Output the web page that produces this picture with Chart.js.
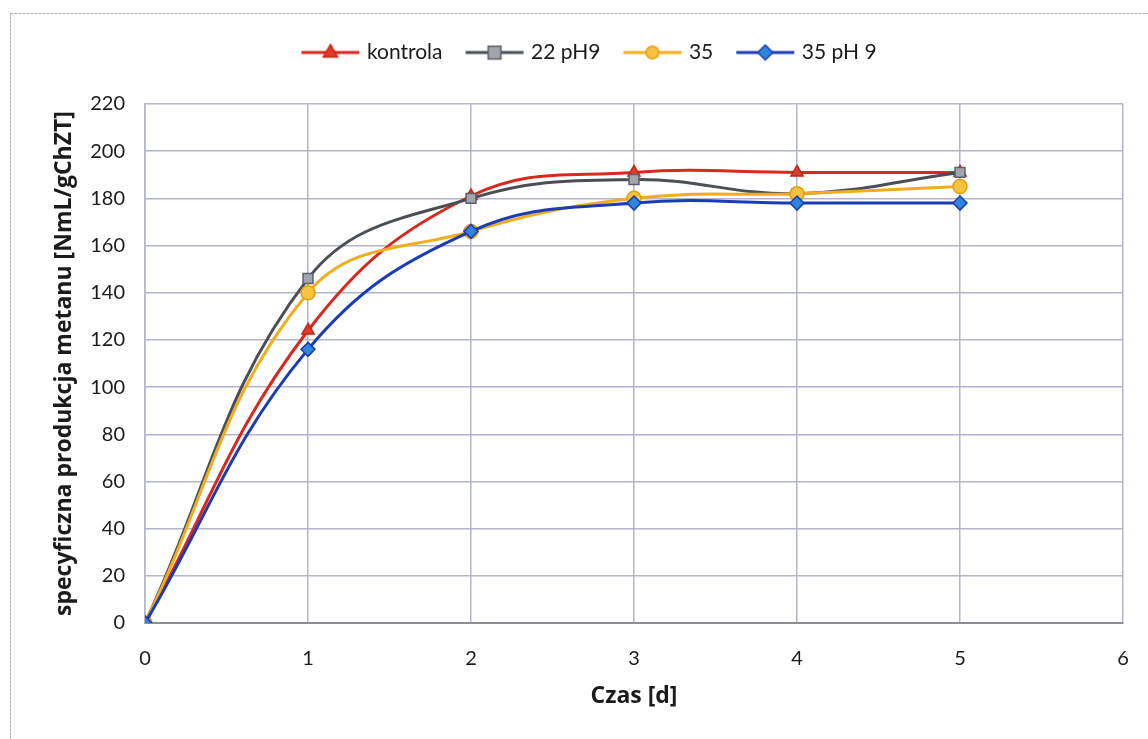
<!DOCTYPE html>
<html>
<head>
<meta charset="utf-8">
<script src="https://cdn.jsdelivr.net/npm/chart.js@4/dist/chart.umd.min.js"></script>
<style>
  html, body { margin: 0; padding: 0; background: #ffffff; }
  #wrap { width: 1148px; height: 739px; position: relative; }
</style>
</head>
<body>
<div id="wrap"><canvas id="c"></canvas></div>
<script>
// Time axis (days) and cumulative specific methane yield per variant
const days = [0, 1, 2, 3, 4, 5];
const kontrola = [0, 124, 181, 191, 191, 191];
const ph22_9 = [0, 146, 180, 188, 182, 191];
const t35 = [0, 140, 166, 180, 182, 185];
const t35ph9 = [0, 116, 166, 178, 178, 178];
const seriesNames = ['kontrola', '22 pH9', '35', '35 pH 9'];
const yTickValues = [0, 20, 40, 60, 80, 100, 120, 140, 160, 180, 200, 220];
const xTickValues = [0, 1, 2, 3, 4, 5, 6];

const FONT = 'Lato, "Open Sans", sans-serif';
const TITLE_FONT = '"Open Sans", Lato, sans-serif';
const TEXT = '#1b1b1b';

const styles = [
  { line: '#d9281d', fill: '#e6372b', border: '#c4241a', shape: 'triangle' },
  { line: '#4a4e56', fill: '#a2a5ad', border: '#5c5f66', shape: 'rect' },
  { line: '#f1ad1c', fill: '#f8c23f', border: '#e39f0e', shape: 'circle' },
  { line: '#1b3cb4', fill: '#2e86db', border: '#1b3cb4', shape: 'rectRot' }
];

function drawMarker(ctx, shape, cx, cy, r) {
  ctx.beginPath();
  if (shape === 'triangle') {
    ctx.moveTo(cx, cy - r * 1.05);
    ctx.lineTo(cx - r * 0.95, cy + r * 0.6);
    ctx.lineTo(cx + r * 0.95, cy + r * 0.6);
    ctx.closePath();
  } else if (shape === 'rect') {
    ctx.rect(cx - r * 0.85, cy - r * 0.85, r * 1.7, r * 1.7);
  } else if (shape === 'circle') {
    ctx.arc(cx, cy, r * 0.85, 0, Math.PI * 2);
  } else {
    ctx.moveTo(cx, cy - r);
    ctx.lineTo(cx + r, cy);
    ctx.lineTo(cx, cy + r);
    ctx.lineTo(cx - r, cy);
    ctx.closePath();
  }
  ctx.fill();
  ctx.stroke();
}

// Legend swatch: a short line segment with the series marker on it
function legendSwatch(st) {
  const cv = document.createElement('canvas');
  cv.width = 62; cv.height = 22;
  const g = cv.getContext('2d');
  g.strokeStyle = st.line; g.lineWidth = 3;
  g.beginPath(); g.moveTo(2, 11); g.lineTo(60, 11); g.stroke();
  g.fillStyle = st.fill; g.strokeStyle = st.border; g.lineWidth = 1.5;
  drawMarker(g, st.shape, 31, 11, 7.5);
  return cv;
}

const seriesValues = [kontrola, ph22_9, t35, t35ph9];
const datasets = seriesValues.map((vals, i) => ({
  label: seriesNames[i],
  data: days.map((d, k) => ({ x: d, y: vals[k] })),
  borderColor: styles[i].line,
  borderWidth: 3,
  backgroundColor: styles[i].fill,
  pointStyle: styles[i].shape,
  pointRadius: 7,
  pointBorderColor: styles[i].border,
  pointBackgroundColor: styles[i].fill,
  pointBorderWidth: 1.5,
  tension: 0.4,
  fill: false,
  order: 4 - i
}));
const swatches = styles.map(legendSwatch);

// Light frame around the whole chart object
const frame = {
  id: 'frame',
  beforeDraw(chart) {
    const ctx = chart.ctx;
    ctx.save();
    ctx.strokeStyle = '#aeb2bc';
    ctx.lineWidth = 1;
    ctx.setLineDash([3, 1]);
    ctx.strokeRect(10.5, 13.5, chart.width + 20, chart.height + 20);
    ctx.restore();
  }
};

// Fixed legend band height and slight horizontal shift of the legend row
const legendBand = {
  id: 'legendBand',
  beforeUpdate(chart) {
    const lg = chart.legend;
    if (lg && !lg._bandPatched) {
      const orig = lg.fit;
      lg.fit = function () { orig.call(this); this.height = 88; };
      lg._bandPatched = true;
    }
  },
  afterLayout(chart) {
    const lg = chart.legend;
    if (lg) { lg.left += 23; lg.right += 23; }
  }
};

new Chart(document.getElementById('c'), {
  type: 'line',
  data: { datasets },
  options: {
    responsive: true,
    maintainAspectRatio: false,
    animation: false,
    layout: { padding: { top: 16, left: 12, right: 25, bottom: 0 } },
    plugins: {
      tooltip: { enabled: false },
      legend: {
        position: 'top',
        labels: {
          usePointStyle: true,
          pointStyleWidth: 52,
          padding: 26,
          color: TEXT,
          font: { family: FONT, size: 21 },
          generateLabels: (chart) => chart.data.datasets.map((ds, i) => ({
            text: ds.label,
            pointStyle: swatches[i],
            fillStyle: styles[i].fill,
            strokeStyle: styles[i].line,
            lineWidth: 0,
            hidden: false,
            datasetIndex: i,
            fontColor: TEXT
          }))
        }
      }
    },
    scales: {
      x: {
        type: 'linear',
        min: 0,
        max: 6,
        afterBuildTicks: (s) => { s.ticks = xTickValues.map(v => ({ value: v })); },
        afterFit: (s) => { s.height = 116; s.paddingRight = 0; s.paddingLeft = 0; },
        grid: { color: '#b3b6ca', lineWidth: 1.5, drawTicks: false },
        border: { color: '#8c8e94', width: 2 },
        ticks: { color: TEXT, font: { family: FONT, size: 20 }, padding: 24 },
        title: {
          display: true,
          text: 'Czas [d]',
          color: TEXT,
          font: { family: TITLE_FONT, size: 23, weight: 'bold' },
          padding: { top: 0, bottom: 29 }
        }
      },
      y: {
        min: 0,
        max: 220,
        afterBuildTicks: (s) => { s.ticks = yTickValues.map(v => ({ value: v })); },
        afterFit: (s) => { s.width = 133; },
        grid: { color: '#b3b6ca', lineWidth: 1.5, drawTicks: false },
        border: { color: '#b3b6ca', width: 1.5 },
        ticks: { color: TEXT, font: { family: FONT, size: 20 }, padding: 20 },
        title: {
          display: true,
          text: 'specyficzna produkcja metanu [NmL/gChZT]',
          color: TEXT,
          font: { family: TITLE_FONT, size: 23, weight: 'bold' },
          padding: { top: 39, bottom: 0 }
        }
      }
    }
  },
  plugins: [frame, legendBand]
});
</script>
</body>
</html>
